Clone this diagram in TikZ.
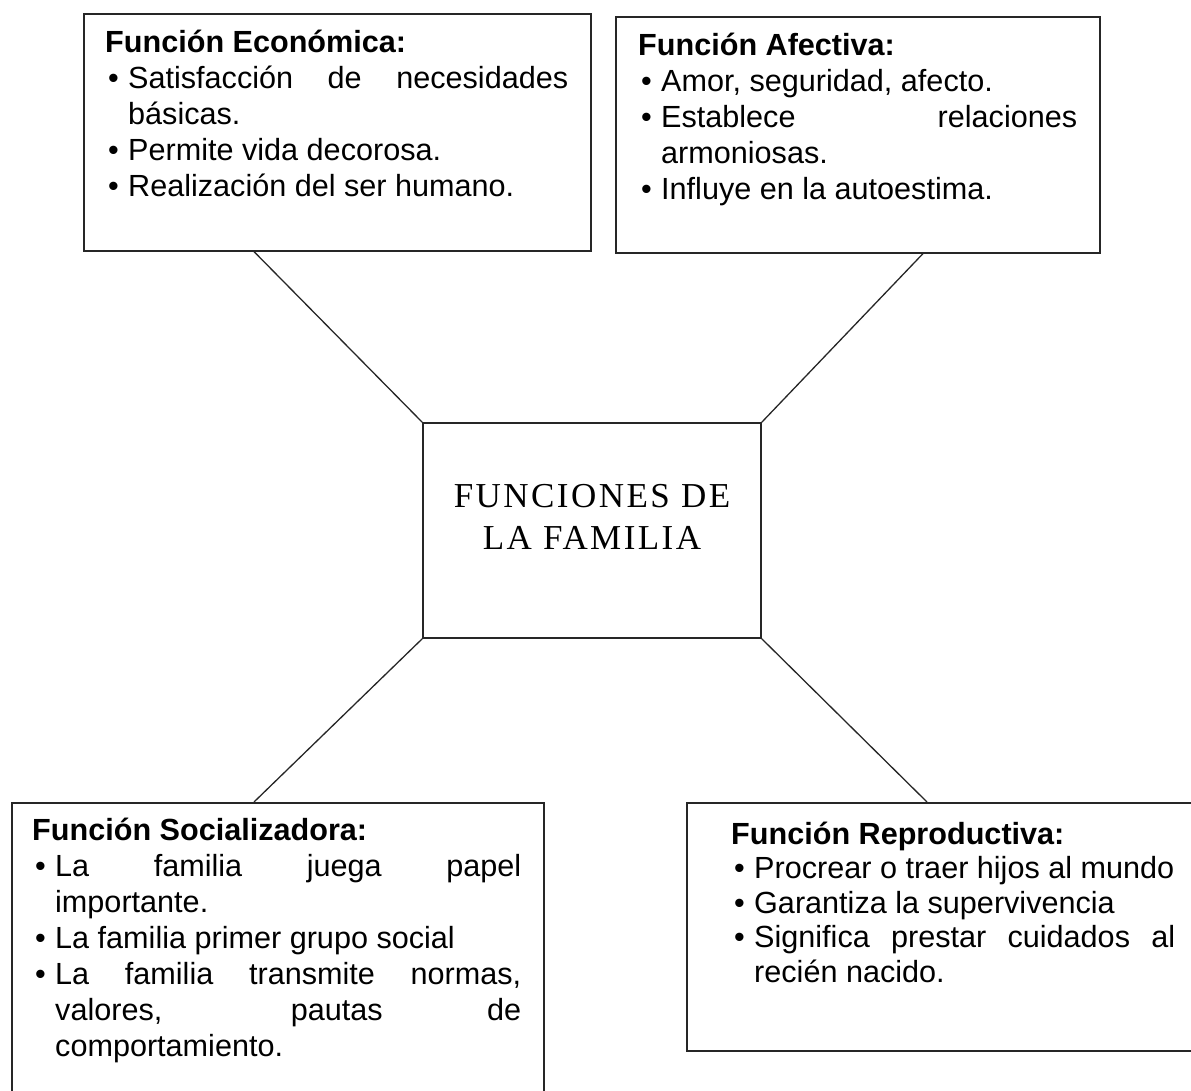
\documentclass[tikz,border=0pt]{standalone}
\usepackage{fontspec}
\setmainfont{Liberation Sans}
\newfontfamily\serifcaps[LetterSpace=7]{Liberation Serif}
\tolerance=10000 \hbadness=10000 \hyphenpenalty=10000
\newcommand{\bitem}[1]{\par\noindent\hangindent=23pt\hangafter=1\makebox[23pt][l]{\hspace{3pt}\textbullet}#1}
\newcommand{\ftitle}[1]{\rule{0pt}{30pt}\textbf{#1}}
\tikzset{
  fbox/.style={rectangle, draw=black!85, line width=1.6pt, inner sep=0pt, anchor=north west},
  ftext/.style={anchor=north west, inner sep=0pt, align=justify, font=\fontsize{30.6}{36}\selectfont},
  link/.style={draw=black!85, line width=1.3pt}
}
\begin{document}
\begin{tikzpicture}[x=1pt, y=-1pt]
\useasboundingbox (0,0) rectangle (1191,1091);
% boxes
\node[fbox, minimum width=507pt, minimum height=237pt] (eco) at (83,13) {};
\node[fbox, minimum width=484pt, minimum height=236pt] (afe) at (615,16) {};
\node[fbox, minimum width=338pt, minimum height=215pt, anchor=center] (fam) at (592,530.5) {};
\node[fbox, minimum width=532pt, minimum height=303pt] (soc) at (11,802) {};
\node[fbox, minimum width=524pt, minimum height=248pt] (rep) at (686,802) {};

% texts
\node[ftext, text width=463pt] (ecoT) at (105,22) {\ftitle{Función Económica:}
  \bitem{Satisfacción de necesidades\linebreak básicas.}
  \bitem{Permite vida decorosa.}
  \bitem{Realización del ser humano.}\par};
\node[ftext, text width=439pt] (afeT) at (638,25) {\ftitle{Función Afectiva:}
  \bitem{Amor, seguridad, afecto.}
  \bitem{Establece relaciones\linebreak armoniosas.}
  \bitem{Influye en la autoestima.}\par};
\node[ftext, text width=489pt] (socT) at (32,810) {\ftitle{Función Socializadora:}
  \bitem{La familia juega papel\linebreak importante.}
  \bitem{La familia primer grupo social}
  \bitem{La familia transmite normas,\linebreak valores, pautas de\linebreak comportamiento.}\par};
\node[ftext, text width=444pt, font=\fontsize{30.6}{34.5}\selectfont] (repT) at (731,814) {\ftitle{Función Reproductiva:}
  \bitem{Procrear~o~traer~hijos~al~mundo}
  \bitem{Garantiza la supervivencia}
  \bitem{Significa prestar cuidados al\linebreak recién nacido.}\par};
\node[font=\serifcaps\fontsize{35}{41.5}\selectfont, align=center, inner sep=0pt] (famT)
  at ([yshift=13.5pt]fam.center) {FUNCIONES DE\\LA FAMILIA};

% connectors
\coordinate (ecoL) at ([xshift=171pt]eco.south west);
\coordinate (afeL) at ([xshift=308pt]afe.south west);
\coordinate (socL) at ([xshift=243pt]soc.north west);
\coordinate (repL) at ([xshift=241pt]rep.north west);
\draw[link] (ecoL) -- (fam.north west);
\draw[link] (afeL) -- (fam.north east);
\draw[link] (fam.south west) -- (socL);
\draw[link] (fam.south east) -- (repL);
\end{tikzpicture}
\end{document}
